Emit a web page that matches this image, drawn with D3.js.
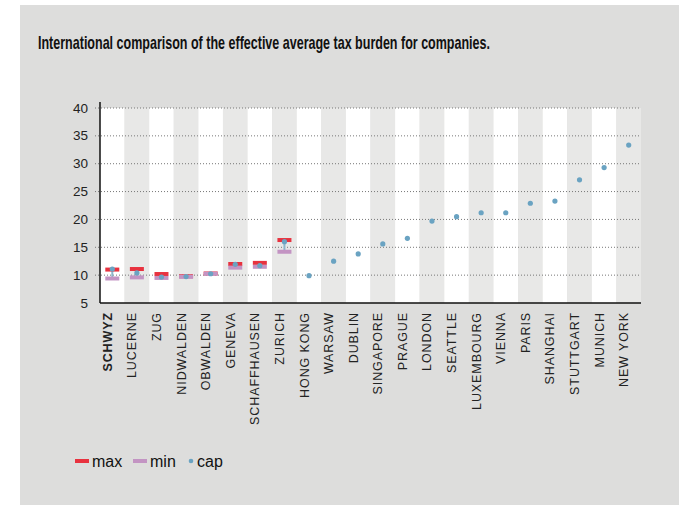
<!DOCTYPE html>
<html>
<head>
<meta charset="utf-8">
<script src="https://cdn.jsdelivr.net/npm/d3@7"></script>
<style>
  body { margin: 0; background: #fff; }
  svg { display: block; }
</style>
</head>
<body>
<div id="chart"></div>
<script>
const width = 679;
const height = 505;

const places = ["SCHWYZ", "LUCERNE", "ZUG", "NIDWALDEN", "OBWALDEN", "GENEVA", "SCHAFFHAUSEN", "ZURICH",
  "HONG KONG", "WARSAW", "DUBLIN", "SINGAPORE", "PRAGUE", "LONDON", "SEATTLE", "LUXEMBOURG",
  "VIENNA", "PARIS", "SHANGHAI", "STUTTGART", "MUNICH", "NEW YORK"];
// max / min only exist for the Swiss cantons (first 8)
const maxVals = [11.0, 11.1, 10.2, 9.8, 10.3, 12.0, 12.2, 16.3];
const minVals = [9.4, 9.6, 9.5, 9.7, 10.25, 11.35, 11.5, 14.2];
const capVals = [11.1, 10.4, 9.65, 9.75, 10.25, 11.95, 11.7, 16.0,
  9.9, 12.5, 13.8, 15.6, 16.6, 19.7, 20.5, 21.2, 21.2, 22.9, 23.3, 27.1, 29.3, 33.35];
const yTicks = [5, 10, 15, 20, 25, 30, 35, 40];

const margin = { top: 108, left: 100, right: 38, bottom: 202 };
const plotW = width - margin.left - margin.right;
const plotH = height - margin.top - margin.bottom;

const svg = d3.select("#chart")
  .append("svg")
  .attr("width", width)
  .attr("height", height);

// panel
svg.append("rect")
  .attr("x", 20).attr("y", 5)
  .attr("width", width - 20).attr("height", height - 5)
  .attr("fill", "#dddddc");

svg.append("text")
  .attr("x", 38).attr("y", 48.5)
  .attr("font-family", "'Liberation Sans Narrow', 'Arial Narrow', sans-serif")
  .attr("font-weight", "bold")
  .attr("font-size", 18.5)
  .attr("fill", "#111")
  .attr("textLength", 452)
  .attr("lengthAdjust", "spacingAndGlyphs")
  .text("International comparison of the effective average tax burden for companies.");

const g = svg.append("g").attr("transform", `translate(${margin.left},${margin.top})`);

const x = d3.scaleBand().domain(places).range([0, plotW]).padding(0);
const y = d3.scaleLinear().domain([5, 40]).range([plotH, 0]);

// alternating columns
g.selectAll("rect.col")
  .data(places)
  .join("rect")
  .attr("class", "col")
  .attr("x", d => x(d))
  .attr("y", 0)
  .attr("width", x.bandwidth())
  .attr("height", plotH)
  .attr("fill", (d, i) => i % 2 === 0 ? "#ffffff" : "#e8e8e7");

// dotted grid
g.selectAll("line.grid")
  .data(yTicks.slice(1))
  .join("line")
  .attr("class", "grid")
  .attr("x1", -5).attr("x2", plotW)
  .attr("y1", d => y(d)).attr("y2", d => y(d))
  .attr("stroke", "#777")
  .attr("stroke-width", 1)
  .attr("stroke-dasharray", "1,2");

// y labels
g.selectAll("text.ytick")
  .data(yTicks)
  .join("text")
  .attr("class", "ytick")
  .attr("x", -12)
  .attr("y", d => y(d) + 4.5)
  .attr("text-anchor", "end")
  .attr("font-family", "'Liberation Sans', Arial, sans-serif")
  .attr("font-size", 13.5)
  .attr("fill", "#222")
  .text(d => d);

// axes lines
g.append("line")
  .attr("x1", 0).attr("x2", 0)
  .attr("y1", -6).attr("y2", plotH)
  .attr("stroke", "#111").attr("stroke-width", 1.5);
g.append("line")
  .attr("x1", 0).attr("x2", plotW)
  .attr("y1", plotH).attr("y2", plotH)
  .attr("stroke", "#111").attr("stroke-width", 1.5);

const swiss = places.slice(0, maxVals.length);
const barW = 14;
const barH = 4;
const cx = d => x(d) + x.bandwidth() / 2;

// stems from cap down to min
g.selectAll("line.stem")
  .data(swiss)
  .join("line")
  .attr("class", "stem")
  .attr("x1", cx).attr("x2", cx)
  .attr("y1", (d, i) => y(capVals[i]))
  .attr("y2", (d, i) => y(minVals[i]))
  .attr("stroke", "#8ab6cc")
  .attr("stroke-width", 2);

g.selectAll("rect.max")
  .data(swiss)
  .join("rect")
  .attr("class", "max")
  .attr("x", d => cx(d) - barW / 2)
  .attr("y", (d, i) => y(maxVals[i]) - barH / 2)
  .attr("width", barW).attr("height", barH)
  .attr("fill", "#e8323f");

g.selectAll("rect.min")
  .data(swiss)
  .join("rect")
  .attr("class", "min")
  .attr("x", d => cx(d) - barW / 2)
  .attr("y", (d, i) => y(minVals[i]) - barH / 2)
  .attr("width", barW).attr("height", barH)
  .attr("fill", "#c394c3");

g.selectAll("circle.cap")
  .data(places)
  .join("circle")
  .attr("class", "cap")
  .attr("cx", cx)
  .attr("cy", (d, i) => y(capVals[i]))
  .attr("r", 2.6)
  .attr("fill", "#6aa3c2");

// rotated category labels
g.selectAll("text.xlab")
  .data(places)
  .join("text")
  .attr("class", "xlab")
  .attr("transform", d => `translate(${cx(d) - 0.5},${plotH + 9}) rotate(-90)`)
  .attr("text-anchor", "end")
  .attr("font-family", "'Liberation Sans', Arial, sans-serif")
  .attr("font-size", 12.5)
  .attr("letter-spacing", 0.9)
  .attr("font-weight", (d, i) => i === 0 ? "bold" : "normal")
  .attr("fill", "#222")
  .text(d => d);

// legend
const legendItems = [
  { label: "max", color: "#e8323f", kind: "bar" },
  { label: "min", color: "#c394c3", kind: "bar" },
  { label: "cap", color: "#6aa3c2", kind: "dot" }
];
const legendX = [75, 133, 189];
const legend = svg.append("g").attr("transform", "translate(0,461)");
legendItems.forEach((it, i) => {
  const lx = legendX[i];
  if (it.kind === "bar") {
    legend.append("rect").attr("x", lx).attr("y", -2).attr("width", 14).attr("height", 4).attr("fill", it.color);
  } else {
    legend.append("circle").attr("cx", lx + 2).attr("cy", 0).attr("r", 2.3).attr("fill", it.color);
  }
  legend.append("text")
    .attr("x", it.kind === "bar" ? lx + 17 : lx + 8)
    .attr("y", 5.5)
    .attr("font-family", "'Liberation Sans', Arial, sans-serif")
    .attr("font-size", 16)
    .attr("fill", "#111")
    .text(it.label);
});
</script>
</body>
</html>
